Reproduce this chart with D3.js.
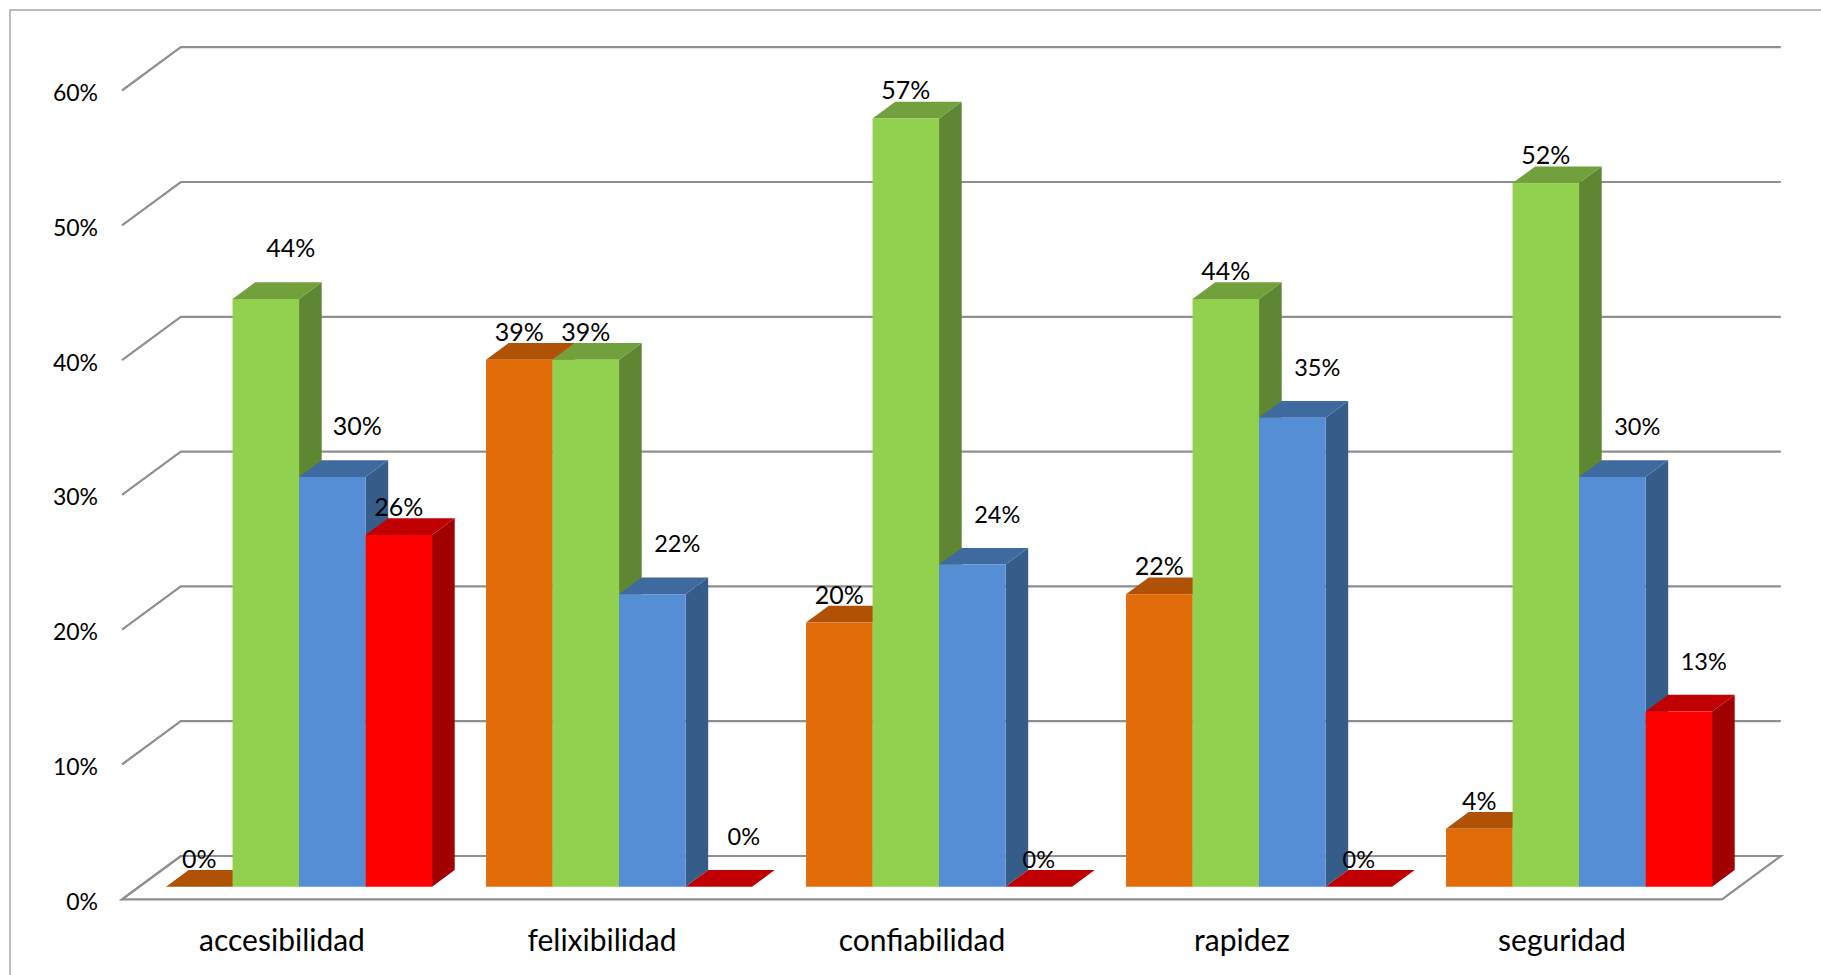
<!DOCTYPE html>
<html>
<head>
<meta charset="utf-8">
<script src="https://cdn.jsdelivr.net/npm/d3@7/dist/d3.min.js"></script>
<style>
  html, body { margin: 0; padding: 0; background: #fff; }
  svg { display: block; }
</style>
</head>
<body>
<svg id="chart" width="1821" height="975"></svg>
<script>
// ---- data ----
const categories = ["accesibilidad", "felixibilidad", "confiabilidad", "rapidez", "seguridad"];
const seriesNames = ["s1", "s2", "s3", "s4"];
const valuesOrange = [0.000, 0.391, 0.196, 0.217, 0.043];
const valuesGreen  = [0.436, 0.391, 0.570, 0.436, 0.522];
const valuesBlue   = [0.304, 0.217, 0.239, 0.348, 0.304];
const valuesRed    = [0.261, 0.000, 0.000, 0.000, 0.130];
const yTickValues  = [0, 0.1, 0.2, 0.3, 0.4, 0.5, 0.6];
// labels Excel pushed up/right (category index, series index) and smaller labels
const shiftedLabels = ["0-1", "0-2", "1-2", "1-3", "2-2", "3-2", "4-2", "4-3"];
const smallLabels   = ["1-2", "1-3", "2-2", "2-3", "3-2", "3-3", "4-2", "4-3"];

// ---- style ----
const colors = [
  { front: "#E36C0A", top: "#B05206", side: "#9A4805" },
  { front: "#92D050", top: "#71A03C", side: "#5F8733" },
  { front: "#558ED5", top: "#3F6A9F", side: "#365C8A" },
  { front: "#FF0000", top: "#C00000", side: "#A00000" }
];
const gridColor = "#8F8F8F";
const font = "Lato, 'Open Sans', sans-serif";

const svg = d3.select("#chart");

// border
svg.append("rect").attr("x", 10).attr("y", 10).attr("width", 1830).attr("height", 990)
  .attr("fill", "none").attr("stroke", "#A6A6A6").attr("stroke-width", 1.5);

// geometry
const floorX0 = 122, floorX1 = 1722, floorFrontY = 899.3;
const depth = [58.8, -43.3];              // full floor depth vector
const frontFrac = 0.29, barFrac = 0.385;  // bar front plane and bar depth as part of floor depth
const barOff = [depth[0] * frontFrac, depth[1] * frontFrac];
const barD = [depth[0] * barFrac, depth[1] * barFrac];

const yH = d3.scaleLinear().domain([0, 0.6]).range([0, 808.8]); // height in px

const xBand = d3.scaleBand().domain(categories).range([floorX0, floorX1]).paddingInner(0).paddingOuter(0);
const xSeries = d3.scaleBand().domain(seriesNames).range([27, xBand.bandwidth() - 27]).padding(0);

const allSeries = [valuesOrange, valuesGreen, valuesBlue, valuesRed];

// floor
const fl = [
  [floorX0, floorFrontY], [floorX1, floorFrontY],
  [floorX1 + depth[0], floorFrontY + depth[1]], [floorX0 + depth[0], floorFrontY + depth[1]]
];
svg.append("path").attr("d", "M" + fl.join("L") + "Z")
  .attr("fill", "#fff").attr("stroke", gridColor).attr("stroke-width", 2.2);

// gridlines (side wall diagonal + back wall line)
const grid = svg.append("g");
yTickValues.forEach(v => {
  const fy = floorFrontY - yH(v);
  const by = fy + depth[1];
  grid.append("path")
    .attr("d", `M${floorX0},${fy}L${floorX0 + depth[0]},${by}L${floorX1 + depth[0]},${by}`)
    .attr("fill", "none").attr("stroke", gridColor).attr("stroke-width", 2.2);
});

// y axis labels
svg.append("g").selectAll("text").data(yTickValues).join("text")
  .attr("x", 98).attr("y", d => floorFrontY - yH(d) + 10.5)
  .attr("text-anchor", "end").attr("font-family", font).attr("font-size", 23).attr("fill", "#000")
  .text(d => d3.format(".0%")(d));

// bars
const bars = svg.append("g");
const labels = [];
categories.forEach((cat, ci) => {
  allSeries.forEach((vals, si) => {
    const v = vals[ci];
    const x0 = xBand(cat) + xSeries(seriesNames[si]) + barOff[0];
    const x1 = x0 + xSeries.bandwidth();
    const base = floorFrontY + barOff[1];
    const top = base - yH(v);
    const c = colors[si];
    // side face
    if (v > 0) {
      bars.append("path")
        .attr("d", `M${x1},${top}L${x1 + barD[0]},${top + barD[1]}L${x1 + barD[0]},${base + barD[1]}L${x1},${base}Z`)
        .attr("fill", c.side);
    }
    // top face
    bars.append("path")
      .attr("d", `M${x0},${top}L${x1},${top}L${x1 + barD[0]},${top + barD[1]}L${x0 + barD[0]},${top + barD[1]}Z`)
      .attr("fill", c.top);
    // front face
    if (v > 0) {
      bars.append("rect").attr("x", x0).attr("y", top).attr("width", x1 - x0).attr("height", base - top)
        .attr("fill", c.front);
    }
    const key = ci + "-" + si;
    const shifted = shiftedLabels.includes(key);
    const small = smallLabels.includes(key);
    labels.push({
      text: d3.format(".0%")(v),
      x: (x0 + x1) / 2 + (shifted ? 25 : 0),
      y: top - (shifted ? 42 : 19),
      size: small ? 23.5 : 25
    });
  });
});

// data labels
svg.append("g").selectAll("text").data(labels).join("text")
  .attr("x", d => d.x).attr("y", d => d.y)
  .attr("text-anchor", "middle").attr("font-family", font).attr("font-size", d => d.size).attr("fill", "#000")
  .text(d => d.text);

// category labels
svg.append("g").selectAll("text").data(categories).join("text")
  .attr("x", d => xBand(d) + xBand.bandwidth() / 2).attr("y", 951)
  .attr("text-anchor", "middle").attr("font-family", font).attr("font-size", 30).attr("fill", "#000")
  .text(d => d);
</script>
</body>
</html>
